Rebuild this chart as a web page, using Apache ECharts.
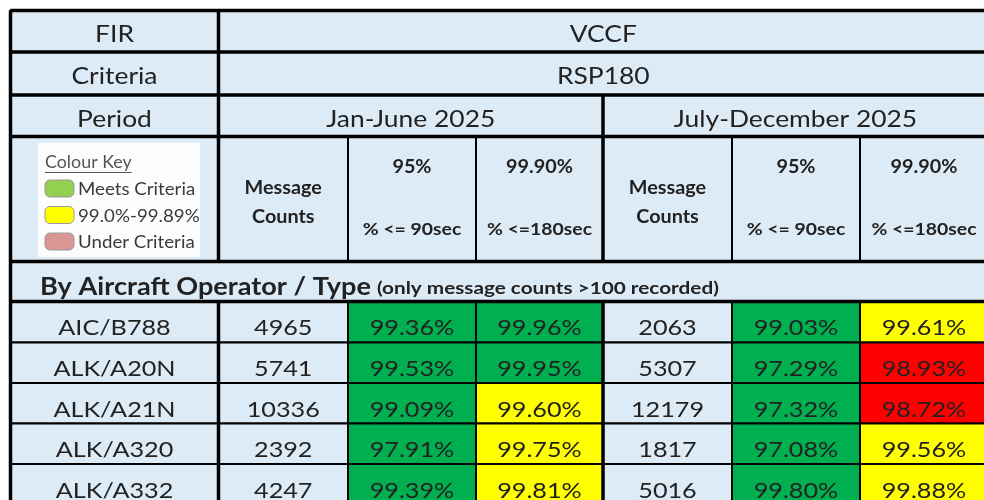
<!DOCTYPE html>
<html style="height: 100%">
<head>
    <meta charset="utf-8">
    <script src="https://cdn.jsdelivr.net/npm/echarts@6/dist/echarts.min.js"></script>
</head>
<body style="height:100%;margin:0;background:#fff">
    <div id="main" style="width:984px;height:500px;"></div>
    <script type="text/javascript">

        // table content
        var fir = 'VCCF';
        var criteria = 'RSP180';
        var periods = ['Jan-June 2025', 'July-December 2025'];
        var operators = ['AIC/B788', 'ALK/A20N', 'ALK/A21N', 'ALK/A320', 'ALK/A332'];
        var countsH1 = [4965, 5741, 10336, 2392, 4247];
        var p90H1 = [99.36, 99.53, 99.09, 97.91, 99.39];
        var p180H1 = [99.96, 99.95, 99.60, 99.75, 99.81];
        var countsH2 = [2063, 5307, 12179, 1817, 5016];
        var p90H2 = [99.03, 97.29, 97.32, 97.08, 99.80];
        var p180H2 = [99.61, 98.93, 98.72, 99.56, 99.88];
        var target90 = 95, target180 = 99.9, nearMiss = 99.0;
        var keyLabels = ['Meets Criteria', '99.0%-99.89%', 'Under Criteria'];

        // layout of the sheet (column widths / row heights in table units)
        var colWidths = [208, 129.5, 128, 127, 129, 128, 128];
        var rowHeights = [41.5, 43, 41.5, 125, 40, 41, 40.5, 40.5, 40.5, 40.5];
        var colEdges = [0], rowEdges = [0];
        colWidths.forEach(function (w) { colEdges.push(colEdges[colEdges.length - 1] + w); });
        rowHeights.forEach(function (h) { rowEdges.push(rowEdges[rowEdges.length - 1] + h); });
        // part of the sheet that is in view (the rest runs off the page)
        var viewWidth = 973.5, viewHeight = 489.5;

        var BLUE = '#DDEBF7', GREEN = '#00B050', YELLOW = '#FFFF00', RED = '#FF0000';
        var INK = '#222222';
        var FONT = 'Lato, "Open Sans", sans-serif';
        var keyColours = ['#92D050', '#FFFF00', '#DA9694'];

        var measureCtx = document.createElement('canvas').getContext('2d');
        function textWidth(text, size, bold) {
            measureCtx.font = (bold ? 'bold ' : '') + size + 'px ' + FONT;
            return measureCtx.measureText(text).width;
        }

        function colour90(v) { return v >= target90 ? GREEN : RED; }
        function colour180(v) { return v >= target180 ? GREEN : (v >= nearMiss ? YELLOW : RED); }

        function T(text, size, bold, dy, sx) {
            return { text: text, size: size, bold: bold, dy: dy, sx: sx || 1.1 };
        }

        var cells = [];
        function addCell(c0, c1, r0, r1, fill, texts, kind) {
            cells.push({ c0: c0, c1: c1, r0: r0, r1: r1, fill: fill, texts: texts || [], kind: kind });
        }

        addCell(0, 1, 0, 1, BLUE, [T('FIR', 24, false, 3.5)]);
        addCell(1, 7, 0, 1, BLUE, [T(fir, 24, false, 3.5)]);
        addCell(0, 1, 1, 2, BLUE, [T('Criteria', 24, false, 3)]);
        addCell(1, 7, 1, 2, BLUE, [T(criteria, 24, false, 3)]);
        addCell(0, 1, 2, 3, BLUE, [T('Period', 24, false, 3.5)]);
        periods.forEach(function (p, k) {
            addCell(1 + 3 * k, 4 + 3 * k, 2, 3, BLUE, [T(p, 24, false, 3.5)]);
        });
        addCell(0, 1, 3, 4, BLUE, [], 'legend');
        periods.forEach(function (p, k) {
            var b = 1 + 3 * k;
            addCell(b, b + 1, 3, 4, BLUE, [T('Message', 18, true, -11), T('Counts', 18, true, 18)]);
            addCell(b + 1, b + 2, 3, 4, BLUE, [T(target90 + '%', 18, true, -32), T('% <= 90sec', 17, true, 31, 1.14)]);
            addCell(b + 2, b + 3, 3, 4, BLUE, [T(target180.toFixed(2) + '%', 18, true, -32), T('% <=180sec', 17, true, 31, 1.14)]);
        });
        addCell(0, 7, 4, 5, BLUE, [], 'section');

        operators.forEach(function (op, i) {
            var r = 5 + i, s = 21, dy = 6.5, sx = 1.2;
            addCell(0, 1, r, r + 1, BLUE, [T(op, s, false, dy, sx)]);
            addCell(1, 2, r, r + 1, BLUE, [T(String(countsH1[i]), s, false, dy, sx)]);
            addCell(2, 3, r, r + 1, colour90(p90H1[i]), [T(p90H1[i].toFixed(2) + '%', s, false, dy, sx)]);
            addCell(3, 4, r, r + 1, colour180(p180H1[i]), [T(p180H1[i].toFixed(2) + '%', s, false, dy, sx)]);
            addCell(4, 5, r, r + 1, BLUE, [T(String(countsH2[i]), s, false, dy, sx)]);
            addCell(5, 6, r, r + 1, colour90(p90H2[i]), [T(p90H2[i].toFixed(2) + '%', s, false, dy, sx)]);
            addCell(6, 7, r, r + 1, colour180(p180H2[i]), [T(p180H2[i].toFixed(2) + '%', s, false, dy, sx)]);
        });

        // heavier rules of the sheet
        var last = colEdges.length - 1, bottom = rowEdges.length - 1;
        var thickLines = [
            [0, 0, colEdges[last], 0],
            [0, 0, 0, rowEdges[bottom]],
            [colEdges[1], 0, colEdges[1], rowEdges[4]],
            [colEdges[1], rowEdges[5], colEdges[1], rowEdges[bottom]],
            [colEdges[4], rowEdges[2], colEdges[4], rowEdges[4]],
            [colEdges[4], rowEdges[5], colEdges[4], rowEdges[bottom]]
        ];
        [1, 2, 3, 4, 5].forEach(function (r) {
            thickLines.push([0, rowEdges[r], colEdges[last], rowEdges[r]]);
        });

        function textEl(x, y, t, align) {
            return {
                type: 'text', x: x, y: y, scaleX: t.sx,
                style: {
                    text: t.text, x: 0, y: 0, fill: t.fill || INK,
                    font: (t.bold ? 'bold ' : '') + t.size + 'px ' + FONT,
                    align: align || 'center', verticalAlign: 'middle'
                }
            };
        }

        function renderCell(params, api) {
            var c = cells[params.dataIndex];
            var p0 = api.coord([api.value(0), api.value(1)]);
            var p1 = api.coord([api.value(2), api.value(3)]);
            var w = p1[0] - p0[0], h = p1[1] - p0[1];
            var cx = p0[0] + w / 2, cy = p0[1] + h / 2;
            var children = [{
                type: 'rect', shape: { x: p0[0], y: p0[1], width: w, height: h },
                style: { fill: c.fill, stroke: '#000', lineWidth: 2 }
            }];
            c.texts.forEach(function (t) {
                children.push(textEl(cx, cy + t.dy, t));
            });
            if (c.kind === 'legend') {
                var bx = p0[0] + 27.5, by = p0[1] + 6.5;
                children.push({ type: 'rect', shape: { x: bx, y: by, width: 162, height: 114 },
                    style: { fill: '#FDFDFD' } });
                var kt = { text: 'Colour Key', size: 17, bold: false, sx: 1.05, fill: '#555555' };
                children.push(textEl(bx + 7, by + 20, kt, 'left'));
                var uw = textWidth('Colour Key', 17, false) * kt.sx;
                children.push({ type: 'line', shape: { x1: bx + 7, y1: by + 29.5, x2: bx + 7 + uw, y2: by + 29.5 },
                    style: { stroke: '#555555', lineWidth: 1 } });
                keyLabels.forEach(function (lab, k) {
                    var sy = by + 37 + k * 26.5;
                    children.push({ type: 'rect', shape: { x: bx + 7, y: sy, width: 29, height: 17, r: 5 },
                        style: { fill: keyColours[k], stroke: '#9a9a9a', lineWidth: 1 } });
                    children.push(textEl(bx + 40, sy + 10, { text: lab, size: 17, bold: false, sx: 1.1, fill: '#3a3a3a' }, 'left'));
                });
            }
            if (c.kind === 'section') {
                var a = { text: 'By Aircraft Operator / Type', size: 24, bold: true, sx: 1.13 };
                var b = { text: '(only message counts >100 recorded)', size: 17, bold: true, sx: 1.22 };
                var ax = p0[0] + 29.5;
                children.push(textEl(ax, cy + 5.5, a, 'left'));
                var bx2 = ax + textWidth(a.text, a.size, true) * a.sx + 6;
                children.push(textEl(bx2, cy + 7.5, b, 'left'));
            }
            return { type: 'group', children: children };
        }

        function renderLine(params, api) {
            var p0 = api.coord([api.value(0), api.value(1)]);
            var p1 = api.coord([api.value(2), api.value(3)]);
            return { type: 'line', shape: { x1: p0[0], y1: p0[1], x2: p1[0], y2: p1[1] },
                style: { stroke: '#000', lineWidth: 3.5 } };
        }

        var myChart = echarts.init(document.getElementById('main'));
        var option = {
            animation: false,
            backgroundColor: '#fff',
            grid: { left: 10.5, top: 10.5, right: 0, bottom: 0 },
            xAxis: { type: 'value', min: 0, max: viewWidth, show: false },
            yAxis: { type: 'value', inverse: true, min: 0, max: viewHeight, show: false },
            series: [
                {
                    type: 'custom', renderItem: renderCell, clip: false,
                    encode: { x: [0, 2], y: [1, 3] },
                    data: cells.map(function (c) {
                        return [colEdges[c.c0], rowEdges[c.r0], colEdges[c.c1], rowEdges[c.r1]];
                    })
                },
                {
                    type: 'custom', renderItem: renderLine, clip: false,
                    encode: { x: [0, 2], y: [1, 3] },
                    data: thickLines
                }
            ]
        };
        myChart.setOption(option);
    </script>
</body>
</html>
